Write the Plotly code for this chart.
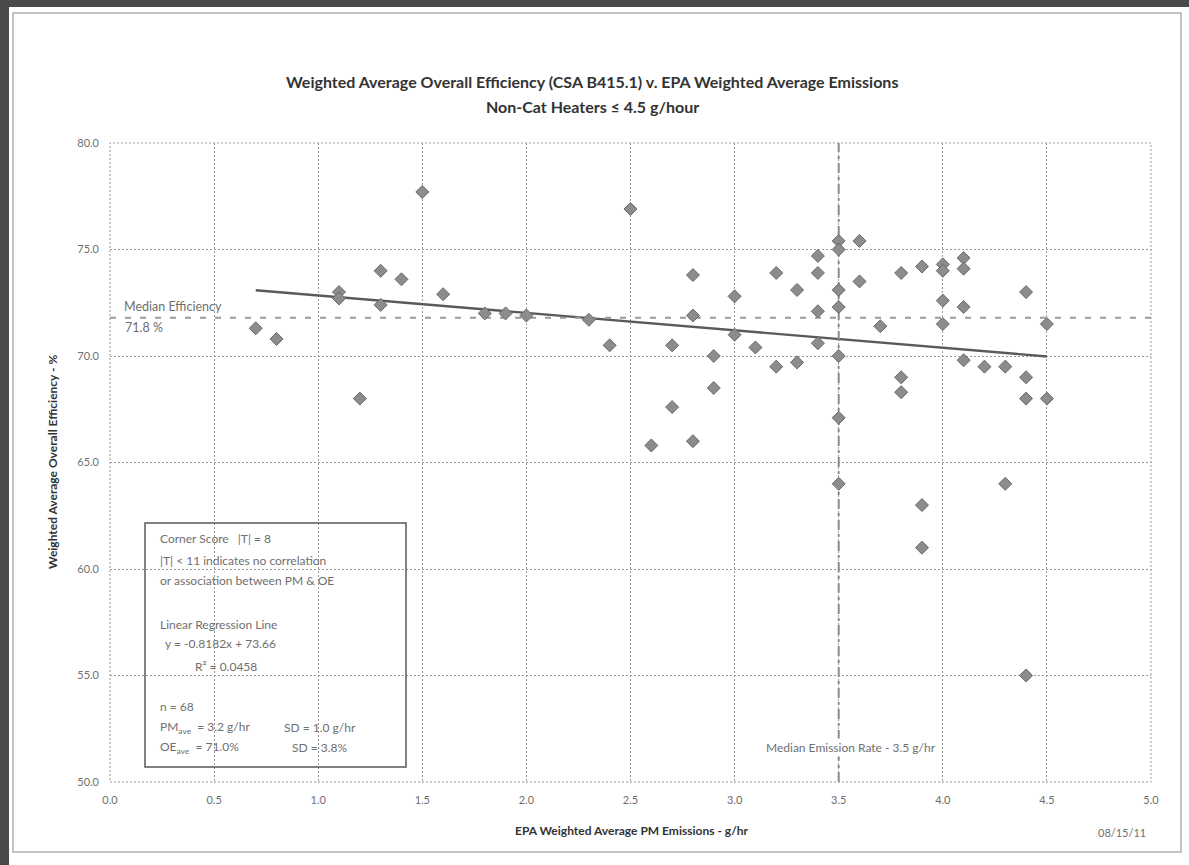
import plotly.graph_objects as go

# Weighted average PM emission rate (g/hr) and overall efficiency (%) per heater
pm_emissions = [
    0.7, 0.8, 1.1, 1.1, 1.2, 1.3, 1.3, 1.4, 1.5, 1.6,
    1.8, 1.9, 2.0, 2.3, 2.4, 2.5, 2.6, 2.7, 2.7, 2.8,
    2.8, 2.8, 2.9, 2.9, 3.0, 3.0, 3.1, 3.2, 3.2, 3.3,
    3.3, 3.4, 3.4, 3.4, 3.4, 3.5, 3.5, 3.5, 3.5, 3.5,
    3.5, 3.5, 3.6, 3.6, 3.7, 3.8, 3.8, 3.8, 3.9, 3.9,
    3.9, 4.0, 4.0, 4.0, 4.0, 4.1, 4.1, 4.1, 4.1, 4.2,
    4.3, 4.3, 4.4, 4.4, 4.4, 4.4, 4.5, 4.5,
]
overall_eff = [
    71.3, 70.8, 73.0, 72.7, 68.0, 74.0, 72.4, 73.6, 77.7, 72.9,
    72.0, 72.0, 71.9, 71.7, 70.5, 76.9, 65.8, 70.5, 67.6, 73.8,
    71.9, 66.0, 70.0, 68.5, 72.8, 71.0, 70.4, 73.9, 69.5, 73.1,
    69.7, 74.7, 73.9, 72.1, 70.6, 75.4, 75.0, 73.1, 72.3, 70.0,
    67.1, 64.0, 75.4, 73.5, 71.4, 73.9, 69.0, 68.3, 74.2, 63.0,
    61.0, 74.3, 74.0, 72.6, 71.5, 74.6, 74.1, 72.3, 69.8, 69.5,
    69.5, 64.0, 73.0, 69.0, 68.0, 55.0, 71.5, 68.0,
]

reg_slope = -0.8182
reg_intercept = 73.66
median_eff = 71.8
median_pm = 3.5

x_ticks = [0.0, 0.5, 1.0, 1.5, 2.0, 2.5, 3.0, 3.5, 4.0, 4.5, 5.0]
y_ticks = [50.0, 55.0, 60.0, 65.0, 70.0, 75.0, 80.0]

W, H = 1189, 865
ML, MR, MT, MB = 110, 38, 143, 83
PW, PH = W - ML - MR, H - MT - MB


def px(x):
    return (x - ML) / PW


def py(y):
    return (H - MB - y) / PH


FONT = "Lato"
GRAY_TXT = "#6f6f6f"
DARK_TXT = "#333333"
GRID = "#9a9a9a"
GRID_DASH = "2px,2px"

fig = go.Figure()

# regression line across the observed emission range
x_lo, x_hi = min(pm_emissions), max(pm_emissions)
fig.add_trace(go.Scatter(
    x=[x_lo, x_hi],
    y=[reg_slope * x_lo + reg_intercept, reg_slope * x_hi + reg_intercept],
    mode="lines", line=dict(color="#5a5a5a", width=2.4),
    showlegend=False, hoverinfo="skip",
))

# median efficiency (horizontal) and median emission rate (vertical)
fig.add_trace(go.Scatter(
    x=[0, 5], y=[median_eff, median_eff], mode="lines",
    line=dict(color="#9a9a9a", width=2, dash="6px,9px"),
    showlegend=False, hoverinfo="skip",
))
fig.add_trace(go.Scatter(
    x=[median_pm, median_pm], y=[50, 80], mode="lines",
    line=dict(color="#8a8a8a", width=2, dash="10px,4px,3px,4px"),
    showlegend=False, hoverinfo="skip",
))

fig.add_trace(go.Scatter(
    x=pm_emissions, y=overall_eff, mode="markers",
    marker=dict(symbol="diamond", size=10, color="#8c8c8c",
                line=dict(color="#6a6a6a", width=1)),
    showlegend=False,
))

axis_common = dict(
    showgrid=True, gridcolor=GRID, gridwidth=1, griddash=GRID_DASH,
    zeroline=False, showline=False, ticks="",
    tickfont=dict(family=FONT, size=11, color=GRAY_TXT),
)

fig.update_layout(
    width=W, height=H,
    margin=dict(l=ML, r=MR, t=MT, b=MB),
    paper_bgcolor="white", plot_bgcolor="white",
    font=dict(family=FONT),
    xaxis=dict(range=[0, 5], tickvals=x_ticks,
               ticktext=[f"{v:.1f}" for v in x_ticks],
               ticklabelstandoff=10, **axis_common),
    yaxis=dict(range=[50, 80], tickvals=y_ticks,
               ticktext=[f"{v:.1f}" for v in y_ticks],
               ticklabelstandoff=10, **axis_common),
)

annotations = []


def label(x, y, text, size=12, color=GRAY_TXT, bold=False, anchor="left", **kw):
    if bold:
        text = f"<b>{text}</b>"
    annotations.append(dict(
        x=px(x), y=py(y), xref="paper", yref="paper", text=text,
        showarrow=False, xanchor=anchor, yanchor="middle",
        font=dict(family=FONT, size=size, color=color), **kw,
    ))


# titles
label(592, 82, "Weighted Average Overall Efficiency (CSA B415.1) v. EPA Weighted Average Emissions",
      size=16, color=DARK_TXT, bold=True, anchor="center")
label(592, 106, "Non-Cat Heaters ≤ 4.5 g/hour", size=16, color=DARK_TXT, bold=True, anchor="center")
label(632, 830, "EPA Weighted Average PM Emissions - g/hr", size=12, color=DARK_TXT,
      bold=True, anchor="center")
annotations.append(dict(
    x=px(52), y=py(462), xref="paper", yref="paper",
    text="<b>Weighted Average Overall Efficiency - %</b>", textangle=-90,
    showarrow=False, xanchor="center", yanchor="middle",
    font=dict(family=FONT, size=12, color=DARK_TXT),
))
label(1122, 832, "08/15/11", size=11, anchor="center")

# reference line labels
label(122, 306, "Median Efficiency", size=12.5)
label(123, 327, "71.8 %", size=12.5)
label(851, 747, "Median Emission Rate - 3.5 g/hr", size=12, anchor="center",
      bgcolor="white")

# statistics box
label(158, 538, "Corner Score   |T| = 8")
label(158, 560, "|T| < 11 indicates no correlation")
label(158, 580, "or association between PM &amp; OE")
label(158, 624, "Linear Regression Line")
label(163, 643, "y = -0.8182x + 73.66")
label(193, 666, "R² = 0.0458")
label(158, 706, "n = 68")
label(158, 727, "PM<sub>ave</sub>  = 3.2 g/hr")
label(282, 727, "SD = 1.0 g/hr")
label(158, 747, "OE<sub>ave</sub>  = 71.0%")
label(290, 747, "SD = 3.8%")

shapes = [
    # dotted plot-area frame (grid lines at the axis limits)
    dict(type="rect", xref="paper", yref="paper", x0=0, x1=1, y0=0, y1=1,
         line=dict(color=GRID, width=1, dash=GRID_DASH), layer="below"),
    # statistics box frame
    dict(type="rect", xref="paper", yref="paper",
         x0=px(145), x1=px(406), y0=py(767), y1=py(523),
         line=dict(color="#5a5a5a", width=1.5)),
    # chart frame
    dict(type="rect", xref="paper", yref="paper",
         x0=px(13), x1=px(1181), y0=py(852), y1=py(13),
         line=dict(color="#b0b0b0", width=1.5)),
    # dark page edges
    dict(type="rect", xref="paper", yref="paper",
         x0=px(0), x1=px(W), y0=py(7), y1=py(0),
         line=dict(width=0), fillcolor="#4a4a4a"),
    dict(type="rect", xref="paper", yref="paper",
         x0=px(0), x1=px(9), y0=py(H), y1=py(0),
         line=dict(width=0), fillcolor="#4a4a4a"),
]

fig.update_layout(annotations=annotations, shapes=shapes)

fig.write_html("out.html")
